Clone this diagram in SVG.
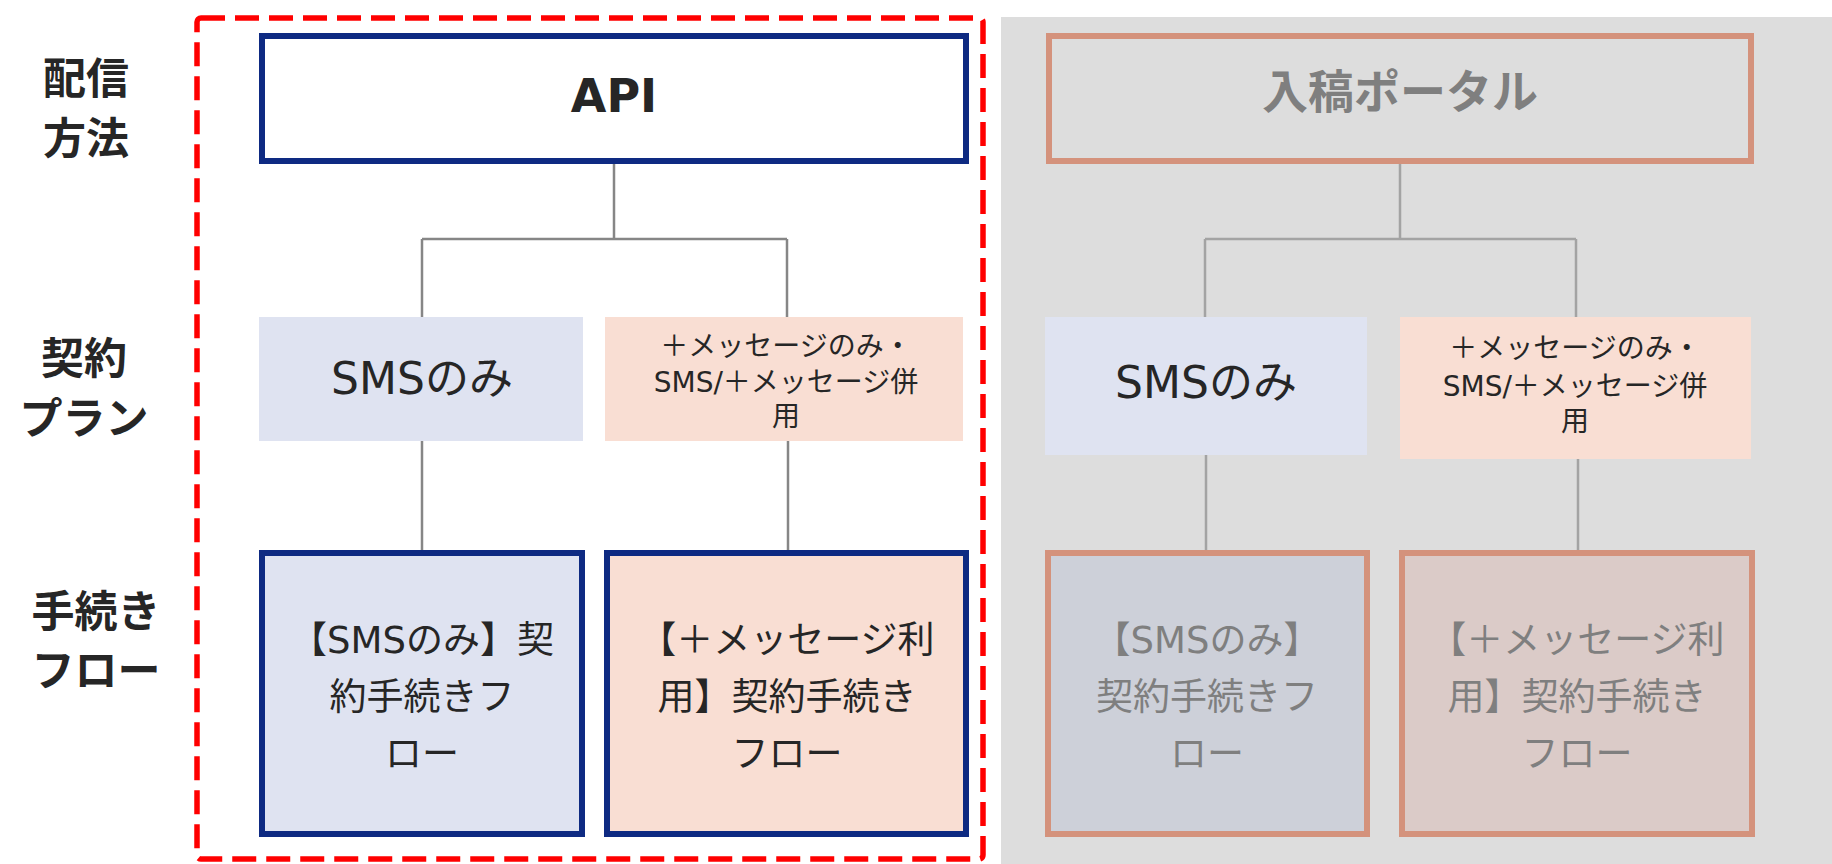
<svg xmlns="http://www.w3.org/2000/svg" width="1832" height="864" viewBox="0 0 1832 864">
<style>
.lbl{font-family:"Noto Sans CJK JP","Noto Sans",sans-serif;font-weight:bold;font-size:43px;fill:#262626;text-anchor:middle}
.ttl{font-family:"DejaVu Sans","Noto Sans CJK JP",sans-serif;font-weight:bold;font-size:46px;text-anchor:middle}
.t{font-family:"DejaVu Sans","Noto Sans CJK JP",sans-serif;text-anchor:middle;fill:#262626}
.g{fill:#7F7F7F}
.plan{font-size:44px}
.plan2{font-size:28px}
.flow{font-size:37px}
.navy{stroke:#0E2A82;stroke-width:6}
.sal{stroke:#D4927C;stroke-width:6}
.conn{fill:none;stroke:#868686;stroke-width:2.5}
.conn2{fill:none;stroke:#A3A3A3;stroke-width:2.5}
</style>
<rect x="0" y="0" width="1832" height="864" fill="#FFFFFF"/>
<rect x="1001" y="17" width="831" height="847" fill="#DDDDDD"/>
<rect x="197" y="18" width="786" height="841" rx="4" fill="none" stroke="#FF0000" stroke-width="5.5" stroke-dasharray="24 10"/>

<g id="row-labels">
<text class="lbl"><tspan x="86" y="94">配信</tspan><tspan x="86" y="154">方法</tspan></text>
<text class="lbl"><tspan x="84" y="374">契約</tspan><tspan x="84" y="434">プラン</tspan></text>
<text class="lbl"><tspan x="96" y="627">手続き</tspan><tspan x="96" y="686">フロー</tspan></text>
</g>

<g id="connectors">
<path class="conn" d="M614 161 V239 M422 239 H787 M422 239 V317 M787 239 V317"/>
<path class="conn" d="M422 441 V550 M788 441 V550"/>
<path class="conn2" d="M1400 161 V239 M1205 239 H1576 M1205 239 V317 M1576 239 V317"/>
<path class="conn2" d="M1206 455 V550 M1578 459 V550"/>
</g>

<g id="api">
<rect x="262" y="36" width="704" height="125" fill="#FFFFFF" class="navy"/>
<text class="ttl" x="614" y="112" fill="#262626">API</text>
</g>
<g id="api-sms">
<rect x="259" y="317" width="324" height="124" fill="#DFE3F1"/>
<text class="t plan" x="422" y="394">SMSのみ</text>
</g>
<g id="api-msg">
<rect x="605" y="317" width="358" height="124" fill="#F9DED3"/>
<text class="t plan2"><tspan x="786" y="356">＋メッセージのみ・</tspan><tspan x="786" y="392">SMS/＋メッセージ併</tspan><tspan x="786" y="426">用</tspan></text>
</g>
<g id="api-sms-flow">
<rect x="262" y="553" width="320" height="281" fill="#DFE3F1" class="navy"/>
<text class="t flow"><tspan x="422" y="653">【SMSのみ】契</tspan><tspan x="422" y="710">約手続きフ</tspan><tspan x="422" y="767">ロー</tspan></text>
</g>
<g id="api-msg-flow">
<rect x="607" y="553" width="359" height="281" fill="#F9DED3" class="navy"/>
<text class="t flow"><tspan x="787" y="653">【＋メッセージ利</tspan><tspan x="787" y="710">用】契約手続き</tspan><tspan x="787" y="767">フロー</tspan></text>
</g>

<g id="portal">
<rect x="1049" y="36" width="702" height="125" fill="#DDDDDD" class="sal"/>
<text class="ttl" x="1400" y="108" fill="#7F7F7F" style="font-family:'Noto Sans CJK JP',sans-serif">入稿ポータル</text>
</g>
<g id="portal-sms">
<rect x="1045" y="317" width="322" height="138" fill="#DFE3F1"/>
<text class="t plan" x="1206" y="398">SMSのみ</text>
</g>
<g id="portal-msg">
<rect x="1400" y="317" width="351" height="142" fill="#F9DED3"/>
<text class="t plan2"><tspan x="1575" y="358">＋メッセージのみ・</tspan><tspan x="1575" y="396">SMS/＋メッセージ併</tspan><tspan x="1575" y="431">用</tspan></text>
</g>
<g id="portal-sms-flow">
<rect x="1048" y="553" width="319" height="281" fill="#CDD0D9" class="sal"/>
<text class="t flow g"><tspan x="1207" y="653">【SMSのみ】</tspan><tspan x="1207" y="710">契約手続きフ</tspan><tspan x="1207" y="767">ロー</tspan></text>
</g>
<g id="portal-msg-flow">
<rect x="1402" y="553" width="350" height="281" fill="#DBCBC8" class="sal"/>
<text class="t flow g"><tspan x="1577" y="653">【＋メッセージ利</tspan><tspan x="1577" y="710">用】契約手続き</tspan><tspan x="1577" y="767">フロー</tspan></text>
</g>
</svg>
